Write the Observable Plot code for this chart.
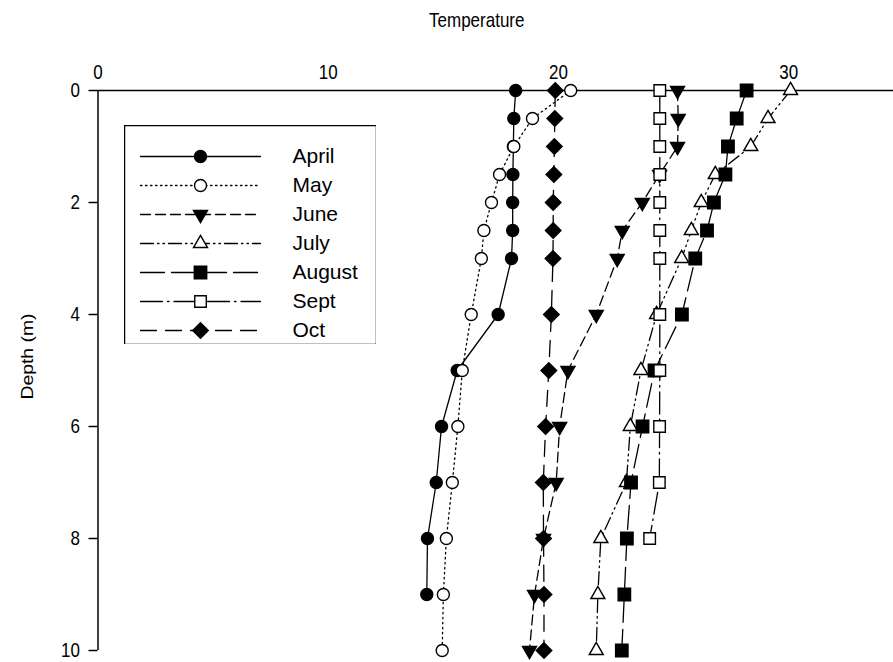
<!DOCTYPE html>
<html>
<head>
<meta charset="utf-8">
<script src="https://cdn.jsdelivr.net/npm/d3@7"></script>
<script src="https://cdn.jsdelivr.net/npm/@observablehq/plot@0.6"></script>
<style>
  body { margin: 0; background: #fff; font-family: "Liberation Sans", Arial, sans-serif; }
  #wrap { position: relative; width: 893px; height: 662px; }
  #legend { position: absolute; left: 124px; top: 125px; }
</style>
</head>
<body>
<div id="wrap"><div id="legend"></div></div>
<script>
// Sampling depths (m)
const depths = [0, 0.5, 1, 1.5, 2, 2.5, 3, 4, 5, 6, 7, 8, 9, 10];

// Water temperature at each depth, per month (null = not sampled)
const april  = [18.14, 18.06, 18.04, 18.02, 18.01, 18.01, 17.96, 17.38, 15.60, 14.92, 14.69, 14.31, 14.28, null];
const may    = [20.53, 18.87, 18.06, 17.44, 17.09, 16.76, 16.65, 16.21, 15.82, 15.63, 15.39, 15.13, 15.00, 14.95];
const june   = [25.17, 25.20, 25.17, 24.39, 23.64, 22.77, 22.55, 21.64, 20.41, 20.05, 19.90, 19.35, 18.96, 18.74];
const july   = [30.08, 29.10, 28.35, 26.81, 26.20, 25.77, 25.35, 24.26, 23.58, 23.12, 22.95, 21.84, 21.71, 21.64];
const august = [28.17, 27.74, 27.36, 27.25, 26.75, 26.45, 25.94, 25.36, 24.17, 23.65, 23.15, 22.97, 22.86, 22.75];
const sept   = [24.40, 24.40, 24.40, 24.40, 24.40, 24.40, 24.40, 24.40, 24.40, 24.39, 24.38, 23.96, null, null];
const oct    = [19.86, 19.84, 19.82, 19.80, 19.77, 19.77, 19.76, 19.69, 19.58, 19.44, 19.34, 19.35, 19.37, 19.37];

const months = ["April", "May", "June", "July", "August", "Sept", "Oct"];
const xTicks = [0, 10, 20, 30];
const yTicks = [0, 2, 4, 6, 8, 10];

const series = {April: april, May: may, June: june, July: july, August: august, Sept: sept, Oct: oct};

// Downward-pointing triangle (d3's triangle flipped)
const triangleDown = {
  draw(context, size) {
    const y = -Math.sqrt(size / (Math.sqrt(3) * 3));
    context.moveTo(0, -y * 2);
    context.lineTo(-Math.sqrt(3) * y, y);
    context.lineTo(Math.sqrt(3) * y, y);
    context.closePath();
  }
};

// Line pattern and marker for each month
const styles = {
  April:  {dash: null,                 symbol: "circle",     fill: "black", r: 6},
  May:    {dash: "1.5,3.5",            symbol: "circle",     fill: "white", r: 6},
  June:   {dash: "10,5",               symbol: triangleDown, fill: "black", r: 5.2},
  July:   {dash: "13,4,1.5,4,1.5,4",   symbol: "triangle",   fill: "white", r: 5.2},
  August: {dash: "24,7",               symbol: "square",     fill: "black", r: 7},
  Sept:   {dash: "22,5,1.5,5",         symbol: "square",     fill: "white", r: 6.5},
  Oct:    {dash: "16,9",               symbol: "diamond2",   fill: "black", r: 7}
};

const rowsOf = (m) => depths
  .map((d, i) => ({depth: d, temp: series[m][i]}))
  .filter((r) => r.temp != null);

const fontFamily = "'Liberation Sans', Arial, sans-serif";

const lineMarks = months.map((m) => Plot.line(rowsOf(m), {
  x: "temp", y: "depth", stroke: "black", strokeWidth: 1.3,
  strokeDasharray: styles[m].dash ?? undefined
}));

const dotMarks = months.map((m) => Plot.dot(rowsOf(m), {
  x: "temp", y: "depth", symbol: styles[m].symbol, r: styles[m].r,
  fill: styles[m].fill, stroke: "black", strokeWidth: 1.4
}));

const chart = Plot.plot({
  width: 893,
  height: 662,
  marginTop: 90,
  marginLeft: 97.5,
  marginRight: 0,
  marginBottom: 12,
  style: {fontFamily, fontSize: "17px", color: "black", background: "white"},
  x: {domain: [0, 34.55]},
  y: {domain: [0, 10], reverse: true},
  marks: [
    Plot.axisX({anchor: "top", ticks: xTicks, tickSize: 0, tickPadding: 12, label: null}),
    Plot.axisY({ticks: yTicks, tickSize: 9, tickPadding: 9, strokeWidth: 1.5, label: null}),
    Plot.ruleY([0], {stroke: "black", strokeWidth: 1.5}),
    Plot.ruleX([0], {stroke: "black", strokeWidth: 1.5}),
    ...lineMarks,
    ...dotMarks,
    Plot.text(["Temperature"], {
      text: (d) => d, frameAnchor: "top", textAnchor: "middle", lineAnchor: "middle",
      dx: -19, dy: -70, fill: "black"
    }),
    Plot.text(["Depth (m)"], {
      text: (d) => d, frameAnchor: "left", textAnchor: "middle", lineAnchor: "middle",
      rotate: -90, dx: -70, dy: -14, fill: "black"
    })
  ]
});

// Axis and title lettering is drawn slightly taller than it is wide
const stretch = 1.14;
d3.select(chart).selectAll("text").each(function () {
  const t = this.getAttribute("transform");
  const s = /rotate\(-90\)/.test(t || "") ? `scale(${stretch},1)` : `scale(1,${stretch})`;
  if (t) {
    this.setAttribute("transform", `${t} ${s}`);
  } else {
    const x = +this.getAttribute("x") || 0, y = +this.getAttribute("y") || 0;
    this.setAttribute("transform", `translate(${x},${y}) ${s} translate(${-x},${-y})`);
  }
});
document.getElementById("wrap").prepend(chart);

// Legend box: one row per month, sample line with its marker and name
const legendRows = months.flatMap((m) => [{m, x: 0}, {m, x: 1}]);
const legend = Plot.plot({
  width: 252,
  height: 219,
  margin: 0,
  style: {fontFamily, fontSize: "21px", color: "black", background: "white"},
  x: {domain: [0, 1], range: [16, 136], axis: null},
  y: {type: "point", domain: months, range: [30, 205], padding: 0, axis: null},
  marks: [
    Plot.frame({stroke: "black", strokeWidth: 1.5, fill: "white"}),
    ...months.map((m) => Plot.line(legendRows.filter((r) => r.m === m), {
      x: "x", y: "m", stroke: "black", strokeWidth: 1.3,
      strokeDasharray: styles[m].dash ?? undefined
    })),
    ...months.map((m) => Plot.dot([m], {
      x: () => 0.5, y: (d) => d, symbol: styles[m].symbol, r: styles[m].r,
      fill: styles[m].fill, stroke: "black", strokeWidth: 1.4
    })),
    Plot.text(months, {x: () => 1, y: (d) => d, text: (d) => d, textAnchor: "start", dx: 32, fill: "black"})
  ]
});
document.getElementById("legend").append(legend);
</script>
</body>
</html>
